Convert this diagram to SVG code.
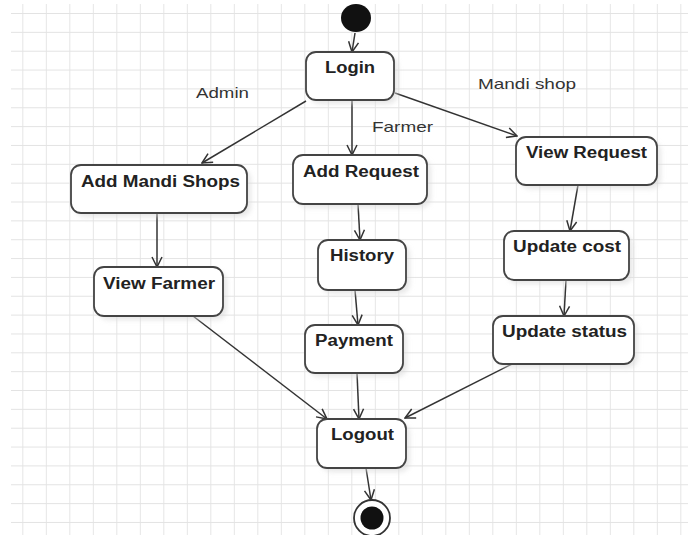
<svg xmlns="http://www.w3.org/2000/svg" width="688" height="535" viewBox="0 0 688 535">
  <defs>
    <pattern id="grid" x="0" y="0" width="23.5" height="18.85" patternUnits="userSpaceOnUse" patternTransform="translate(-0.2,-4.85)">
      <path d="M23.5,0 V18.85 M0,18.85 H23.5" fill="none" stroke="#e3e3e3" stroke-width="1.8"/>
    </pattern>
    <filter id="shadow" x="-20%" y="-20%" width="150%" height="160%">
      <feGaussianBlur stdDeviation="2.5"/>
    </filter>
    <marker id="arrow" viewBox="0 0 12 12" refX="11" refY="6" markerWidth="12" markerHeight="12" markerUnits="userSpaceOnUse" orient="auto">
      <path d="M1,1 L11,6 L1,11" fill="none" stroke="#333" stroke-width="1.5"/>
    </marker>
    <style>
      .node rect.box { fill: #fff; stroke: #444; stroke-width: 1.8; }
      .node rect.sh { fill: #d8d8d8; filter: url(#shadow); opacity: 0.6; }
      .node text { font-family: "Liberation Sans", Arial, sans-serif; font-weight: bold; font-size: 16px; fill: #222; text-anchor: middle; }
      .lbl { font-family: "Liberation Sans", Arial, sans-serif; font-size: 15px; fill: #333; }
      .edges line { stroke: #333; stroke-width: 1.5; marker-end: url(#arrow); }
    </style>
  </defs>

  <rect width="688" height="535" fill="#fff"/>
  <rect x="11" y="4" width="677" height="531" fill="url(#grid)"/>

  <!-- swimlane labels -->
  <text class="lbl" x="196" y="98" textLength="53" lengthAdjust="spacingAndGlyphs">Admin</text>
  <text class="lbl" x="372" y="132" textLength="61" lengthAdjust="spacingAndGlyphs">Farmer</text>
  <text class="lbl" x="478" y="89" textLength="98" lengthAdjust="spacingAndGlyphs">Mandi shop</text>

  <!-- connectors -->
  <g class="edges">
    <line x1="355" y1="33" x2="352" y2="52"/>
    <line x1="306" y1="101" x2="202" y2="163"/>
    <line x1="352" y1="100" x2="352" y2="155"/>
    <line x1="395" y1="93" x2="517" y2="136"/>
    <line x1="157" y1="213" x2="157" y2="267"/>
    <line x1="358" y1="204" x2="360" y2="240"/>
    <line x1="355" y1="290" x2="358" y2="325"/>
    <line x1="578" y1="185" x2="570" y2="231"/>
    <line x1="566" y1="280" x2="564" y2="316"/>
    <line x1="193" y1="316" x2="327" y2="419"/>
    <line x1="357" y1="373" x2="359" y2="419"/>
    <line x1="512" y1="364" x2="405" y2="418"/>
    <line x1="366" y1="468" x2="371" y2="500"/>
  </g>

  <!-- start node -->
  <g id="start">
    <ellipse cx="356" cy="18" rx="15" ry="14" fill="#111"/>
  </g>

  <g id="login" class="node">
    <rect class="sh" x="310" y="56" width="88" height="48" rx="10"/>
    <rect class="box" x="306" y="52" width="88" height="48" rx="10"/>
    <text x="350" y="73" textLength="50" lengthAdjust="spacingAndGlyphs">Login</text>
  </g>

  <g id="add-mandi-shops" class="node">
    <rect class="sh" x="75" y="169" width="176" height="48" rx="10"/>
    <rect class="box" x="71" y="165" width="176" height="48" rx="10"/>
    <text x="160.5" y="187" textLength="159" lengthAdjust="spacingAndGlyphs">Add Mandi Shops</text>
  </g>

  <g id="add-request" class="node">
    <rect class="sh" x="297" y="159" width="134" height="49" rx="10"/>
    <rect class="box" x="293" y="155" width="134" height="49" rx="10"/>
    <text x="361" y="177" textLength="116" lengthAdjust="spacingAndGlyphs">Add Request</text>
  </g>

  <g id="view-request" class="node">
    <rect class="sh" x="520" y="141" width="141" height="48" rx="10"/>
    <rect class="box" x="516" y="137" width="141" height="48" rx="10"/>
    <text x="586.5" y="158" textLength="121" lengthAdjust="spacingAndGlyphs">View Request</text>
  </g>

  <g id="history" class="node">
    <rect class="sh" x="322" y="244" width="88" height="50" rx="10"/>
    <rect class="box" x="318" y="240" width="88" height="50" rx="10"/>
    <text x="362" y="261" textLength="64" lengthAdjust="spacingAndGlyphs">History</text>
  </g>

  <g id="payment" class="node">
    <rect class="sh" x="309" y="329" width="98" height="48" rx="10"/>
    <rect class="box" x="305" y="325" width="98" height="48" rx="10"/>
    <text x="354" y="346" textLength="78" lengthAdjust="spacingAndGlyphs">Payment</text>
  </g>

  <g id="view-farmer" class="node">
    <rect class="sh" x="98" y="271" width="129" height="49" rx="10"/>
    <rect class="box" x="94" y="267" width="129" height="49" rx="10"/>
    <text x="159" y="289" textLength="112" lengthAdjust="spacingAndGlyphs">View Farmer</text>
  </g>

  <g id="update-cost" class="node">
    <rect class="sh" x="508" y="235" width="125" height="49" rx="10"/>
    <rect class="box" x="504" y="231" width="125" height="49" rx="10"/>
    <text x="567" y="252" textLength="108" lengthAdjust="spacingAndGlyphs">Update cost</text>
  </g>

  <g id="update-status" class="node">
    <rect class="sh" x="497" y="320" width="141" height="48" rx="10"/>
    <rect class="box" x="493" y="316" width="141" height="48" rx="10"/>
    <text x="564.5" y="337" textLength="125" lengthAdjust="spacingAndGlyphs">Update status</text>
  </g>

  <g id="logout" class="node">
    <rect class="sh" x="321" y="423" width="89" height="49" rx="10"/>
    <rect class="box" x="317" y="419" width="89" height="49" rx="10"/>
    <text x="362.5" y="440" textLength="63" lengthAdjust="spacingAndGlyphs">Logout</text>
  </g>

  <!-- end node -->
  <g id="end">
    <circle cx="372" cy="518" r="18" fill="#fff" stroke="#333" stroke-width="1.8"/>
    <circle cx="372" cy="518" r="11.5" fill="#111"/>
  </g>
</svg>
